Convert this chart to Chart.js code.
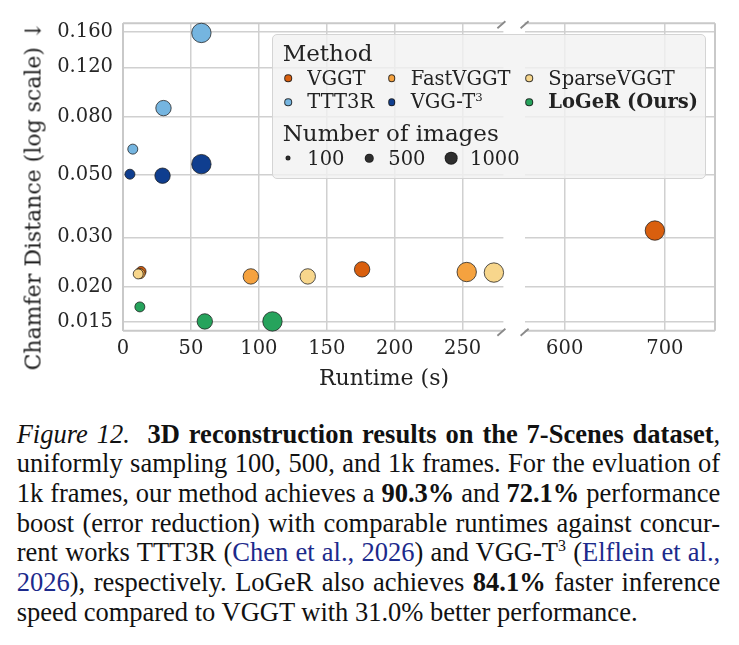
<!DOCTYPE html>
<html>
<head>
<meta charset="utf-8">
<script src="https://cdn.jsdelivr.net/npm/chart.js@4.4.1/dist/chart.umd.min.js"></script>
<style>
  html, body { margin: 0; padding: 0; background: #fff; }
  #fig { position: relative; width: 739px; height: 645px; overflow: hidden; background: #fff; }
  #left { position: absolute; left: 0; top: 0; }
  #right { position: absolute; left: 514px; top: 0; }
  .ttl { position: absolute; font-family: 'DejaVu Serif', serif; font-size: 22px; color: #222; white-space: nowrap; }
  #ytitle { left: 33px; top: 196px; transform: translate(-50%, -50%) rotate(-90deg); }
  #xtitle { left: 384px; top: 377px; transform: translate(-50%, -50%); }
  #legend { position: absolute; left: 271.7px; top: 34.3px; width: 432px; height: 143px;
            background: rgba(241,241,241,0.8); border: 1.5px solid #d4d4d4; border-radius: 5px; }
  .lg { position: absolute; font-family: 'DejaVu Serif', serif; color: #222; white-space: nowrap; line-height: 1; }
  .lt { font-size: 23px; }
  .li { font-size: 19.5px; }
  .mk { position: absolute; border-radius: 50%; transform: translate(-50%, -50%); box-sizing: border-box;
        border: 0.9px solid rgba(30,30,30,0.85); }
  #caption { position: absolute; left: 16.7px; top: 419.5px; width: 703.5px;
             font-family: 'Liberation Serif', 'Tinos', 'Times New Roman', 'Nimbus Roman', 'FreeSerif',
                          'DejaVu Serif Condensed', 'DejaVu Serif';
             font-size: 27px; line-height: 29.7px; color: #111; }
  #caption .ln { text-align: justify; text-align-last: justify; white-space: nowrap; }
  #caption .cite { color: #1c2a8c; }
  #caption sup { font-size: 0.6em; line-height: 0; vertical-align: 0.6em; }
</style>
</head>
<body>
<div id="fig">
  <canvas id="left" width="514" height="395"></canvas>
  <canvas id="right" width="225" height="395"></canvas>
  <div class="ttl" id="ytitle">Chamfer Distance (log scale) ↓</div>
  <div class="ttl" id="xtitle">Runtime (s)</div>
  <div id="legend"></div>
  <div id="caption">
    <div class="ln"><span><i>Figure 12.</i>&nbsp; <b>3D reconstruction results on the 7-Scenes dataset</b>,</span></div>
    <div class="ln"><span>uniformly sampling 100, 500, and 1k frames. For the evluation of</span></div>
    <div class="ln"><span>1k frames, our method achieves a <b>90.3%</b> and <b>72.1%</b> performance</span></div>
    <div class="ln"><span>boost (error reduction) with comparable runtimes against concur-</span></div>
    <div class="ln"><span>rent works TTT3R (<span class="cite">Chen et al., 2026</span>) and VGG-T<sup>3</sup> (<span class="cite">Elflein et al.,</span></span></div>
    <div class="ln"><span><span class="cite">2026</span>), respectively. LoGeR also achieves <b>84.1%</b> faster inference</span></div>
    <div>speed compared to VGGT with 31.0% better performance.</div>
  </div>
</div>
<script>
// methods in plotting order (later ones drawn on top)
const methods = ['VGGT', 'TTT3R', 'FastVGGT', 'VGG-T³', 'SparseVGGT', 'LoGeR (Ours)'];
const imageCounts = [100, 500, 1000];

// runtime (s) and chamfer distance for 100 / 500 / 1000 images
const vggtRuntime = [13.3, 176, 690];
const vggtChamfer = [0.0227, 0.0231, 0.0317];
const tttRuntime = [7.2, 29.8, 57.7];
const tttChamfer = [0.0616, 0.0861, 0.159];
const fastRuntime = [12.6, 94.1, 253];
const fastChamfer = [0.0223, 0.0218, 0.0226];
const vggt3Runtime = [5.1, 29.1, 57.7];
const vggt3Chamfer = [0.0502, 0.0496, 0.0545];
const sparseRuntime = [11.2, 136, 273];
const sparseChamfer = [0.02225, 0.0218, 0.0225];
const logerRuntime = [12.4, 60.2, 110];
const logerChamfer = [0.0170, 0.0151, 0.0151];

const yTicks = [0.015, 0.020, 0.030, 0.050, 0.080, 0.120, 0.160];
const xTicksLeft = [0, 50, 100, 150, 200, 250];
const xTicksRight = [600, 700];

const runtimes = [vggtRuntime, tttRuntime, fastRuntime, vggt3Runtime, sparseRuntime, logerRuntime];
const chamfers = [vggtChamfer, tttChamfer, fastChamfer, vggt3Chamfer, sparseChamfer, logerChamfer];

// styles
const colors = ['#d95f0e', '#75b5e0', '#f5a23f', '#0f3e8f', '#f7d68c', '#26a35c'];
const radii = [5, 7.7, 9.7];
const gridColor = '#d0d0d0';
const spineColor = '#c9c9c9';

Chart.defaults.font.family = "'DejaVu Serif', serif";
Chart.defaults.font.size = 19.5;
Chart.defaults.color = '#262626';

const spines = {
    id: 'spines',
    beforeDatasetsDraw(chart, args, opts) {
        const { ctx, chartArea: a } = chart;
        ctx.save();
        ctx.strokeStyle = spineColor;
        ctx.lineWidth = 2;
        ctx.beginPath();
        opts.sides.forEach(s => {
            if (s === 'left') { ctx.moveTo(a.left, a.top); ctx.lineTo(a.left, a.bottom); }
            if (s === 'right') { ctx.moveTo(a.right, a.top); ctx.lineTo(a.right, a.bottom); }
            if (s === 'top') { ctx.moveTo(a.left, a.top); ctx.lineTo(a.right, a.top); }
            if (s === 'bottom') { ctx.moveTo(a.left, a.bottom); ctx.lineTo(a.right, a.bottom); }
        });
        ctx.stroke();

        // break marks
        ctx.strokeStyle = '#8a8a8a';
        ctx.lineWidth = 1.8;
        ctx.beginPath();
        const x = opts.breakAt === 'right' ? a.right : a.left;
        const dx = opts.breakAt === 'right' ? -6 : -4;
        [a.top, a.bottom].forEach(y => {
            ctx.moveTo(x + dx, y + 5);
            ctx.lineTo(x + dx + 8, y - 2);
        });
        ctx.stroke();
        ctx.restore();
    }
};

function makeDatasets() {
    return methods.map((name, i) => ({
        label: name,
        data: runtimes[i].map((x, k) => ({ x: x, y: chamfers[i][k] })),
        backgroundColor: colors[i],
        borderColor: 'rgba(30,30,30,0.85)',
        borderWidth: 0.9,
        pointRadius: radii,
        pointHoverRadius: radii,
        order: -i,
        clip: false
    }));
}

function makeChart(id, xMin, xMax, xTicks, isLeft) {
    return new Chart(document.getElementById(id), {
        type: 'scatter',
        data: { datasets: makeDatasets() },
        options: {
            responsive: false,
            animation: false,
            events: [],
            layout: { padding: isLeft ? { top: 23.3, right: 7.3, left: 0, bottom: 0 }
                                      : { top: 23.3, right: 24, left: 7.7, bottom: 0 } },
            plugins: {
                legend: { display: false },
                tooltip: { enabled: false },
                spines: { sides: isLeft ? ['left', 'top', 'bottom'] : ['right', 'top', 'bottom'],
                          breakAt: isLeft ? 'right' : 'left' }
            },
            scales: {
                x: {
                    type: 'linear',
                    min: xMin,
                    max: xMax,
                    afterBuildTicks: s => { s.ticks = xTicks.map(v => ({ value: v })); },
                    afterFit: s => { s.height = 64.3; },
                    grid: { color: gridColor, lineWidth: 1.5, drawTicks: false },
                    border: { display: false },
                    ticks: { padding: 7, maxRotation: 0 }
                },
                y: {
                    type: 'logarithmic',
                    min: 0.0140,
                    max: 0.172,
                    afterBuildTicks: s => { s.ticks = yTicks.map(v => ({ value: v })); },
                    afterFit: s => { s.width = isLeft ? 123 : 0; },
                    grid: { color: gridColor, lineWidth: 1.5, drawTicks: false },
                    border: { display: false },
                    ticks: { display: isLeft, padding: 10, callback: v => v.toFixed(3) }
                }
            }
        },
        plugins: [spines]
    });
}

makeChart('left', 0, 280, xTicksLeft, true);
makeChart('right', 560, 750, xTicksRight, false);

// legend (html overlay)
const fig = document.getElementById('fig');
function addText(txt, cls, left, top, bold) {
    const d = document.createElement('div');
    d.className = 'lg ' + cls;
    d.style.left = left + 'px';
    d.style.top = top + 'px';
    if (bold) d.style.fontWeight = 'bold';
    d.innerHTML = txt;
    fig.appendChild(d);
}
function addMarker(cx, cy, d, color) {
    const m = document.createElement('div');
    m.className = 'mk';
    m.style.left = cx + 'px';
    m.style.top = cy + 'px';
    m.style.width = d + 'px';
    m.style.height = d + 'px';
    m.style.background = color;
    fig.appendChild(m);
}
addText('Method', 'lt', 282.7, 42.2);
const colX = [288.3, 391.7, 529.3];
const rowY = [78.3, 102];
methods.forEach((name, i) => {
    const col = Math.floor(i / 2), row = i % 2;
    addMarker(colX[col], rowY[row], 7.6, colors[i]);
    const label = name === 'VGG-T³' ? 'VGG-T<sup style="font-size:0.6em;line-height:0">3</sup>' : name;
    addText(label, 'li', colX[col] + 19, rowY[row] - 9.8, i === 5);
});
addText('Number of images', 'lt', 282.7, 122.2);
const sizeX = [288.3, 369.3, 451];
const sizeD = [5, 8.5, 12.7];
imageCounts.forEach((n, k) => {
    addMarker(sizeX[k], 158.3, sizeD[k], '#2e2e2e');
    addText(String(n), 'li', sizeX[k] + 19, 158.3 - 9.8);
});

// shrink caption font if a justified line does not fit
const cap = document.getElementById('caption');
let fs = 27;
function fits() {
    return [...cap.querySelectorAll('.ln > span')].every(s => s.getBoundingClientRect().width <= 704);
}
while (!fits() && fs > 16) {
    fs -= 0.25;
    cap.style.fontSize = fs + 'px';
}
</script>
</body>
</html>
